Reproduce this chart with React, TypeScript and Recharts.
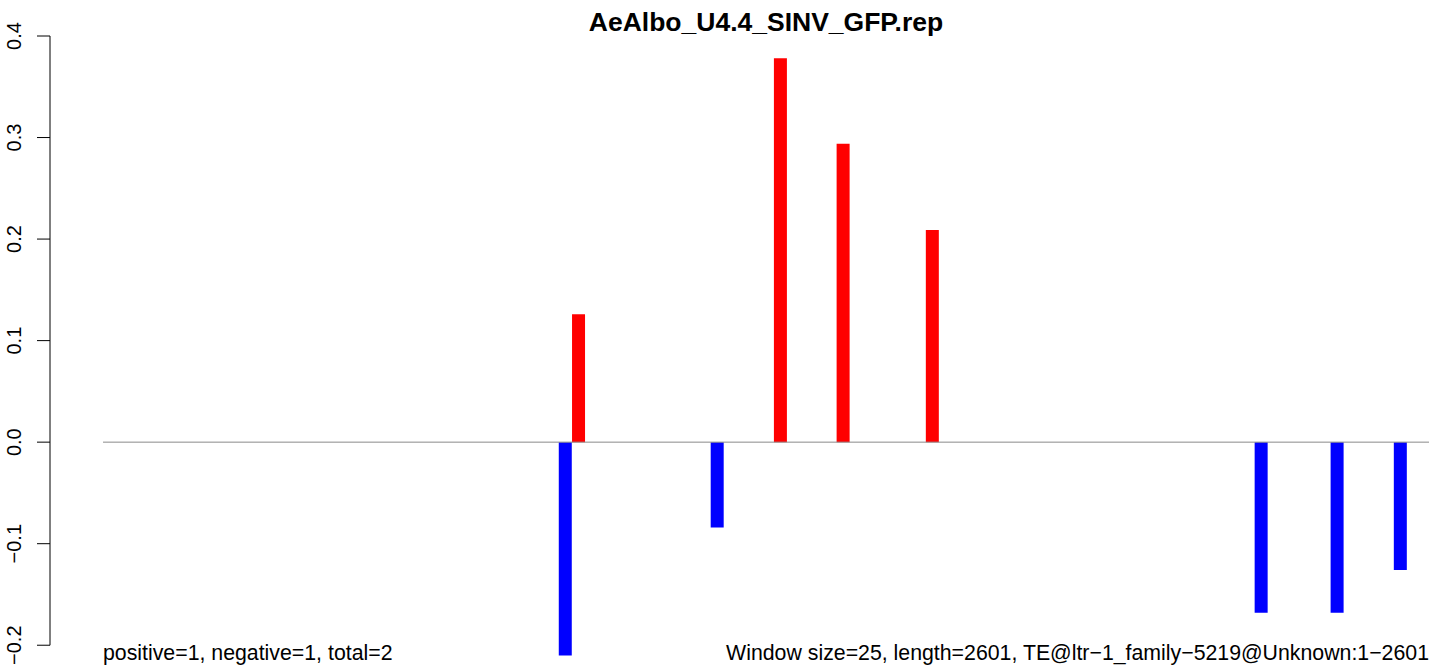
import { ComposedChart, Bar, Cell, XAxis, YAxis, ReferenceLine } from "recharts";

// window positions (bp) and scores
const positions = [907, 933, 1205, 1329, 1452, 1627, 2272, 2421, 2545];
const scores = [-0.21, 0.126, -0.084, 0.378, 0.294, 0.209, -0.168, -0.168, -0.126];
const yTicks = [-0.2, -0.1, 0, 0.1, 0.2, 0.3, 0.4];

const seqLength = 2601;
const title = "AeAlbo_U4.4_SINV_GFP.rep";
const leftNote = "positive=1, negative=1, total=2";
const rightNote = "Window size=25, length=2601, TE@ltr\u22121_family\u22125219@Unknown:1\u22122601";

const data = positions.map((pos, i) => ({ pos, value: scores[i] }));

const FONT = "'Liberation Sans', Arial, Helvetica, sans-serif";

function YTick({ x, y, payload }: { x?: number; y?: number; payload?: { value: number } }) {
  if (x == null || y == null || !payload) return null;
  const label = payload.value.toFixed(1).replace("-", "\u2212");
  return (
    <text
      x={x}
      y={y}
      transform={`rotate(-90, ${x}, ${y})`}
      textAnchor="middle"
      fontSize={20}
      fontFamily={FONT}
      fill="#000"
    >
      {label}
    </text>
  );
}

export default function App() {
  return (
    <div style={{ position: "absolute", left: 0, top: 0, width: 1429, height: 667, overflow: "hidden", background: "#fff" }}>
      <ComposedChart width={1429} height={696} data={data} margin={{ top: 36, right: 0, left: 0, bottom: 0 }}>
        <XAxis type="number" dataKey="pos" domain={[-104, seqLength]} allowDataOverflow hide />
        <YAxis
          type="number"
          domain={[-0.25, 0.4]}
          ticks={yTicks}
          interval={0}
          width={50}
          axisLine={false}
          tickLine={{ stroke: "#000", strokeWidth: 1 }}
          tickSize={13}
          tickMargin={16}
          tick={<YTick />}
        />
        <ReferenceLine
          segment={[{ x: -104, y: -0.2 }, { x: -104, y: 0.4 }]}
          stroke="#000"
          strokeWidth={1}
          ifOverflow="visible"
        />
        <ReferenceLine
          segment={[{ x: 0, y: 0 }, { x: seqLength, y: 0 }]}
          stroke="#8a8a8a"
          strokeWidth={1}
          ifOverflow="visible"
        />
        <Bar dataKey="value" barSize={13} isAnimationActive={false}>
          {data.map((d, i) => (
            <Cell key={i} fill={d.value >= 0 ? "#ff0000" : "#0000ff"} />
          ))}
        </Bar>
      </ComposedChart>
      <svg width={1429} height={667} style={{ position: "absolute", left: 0, top: 0, pointerEvents: "none" }}>
        <text x={766} y={31} textAnchor="middle" fontSize={26.5} fontWeight="bold" fontFamily={FONT} fill="#000">
          {title}
        </text>
        <text x={103} y={660} textAnchor="start" fontSize={21.3} fontFamily={FONT} fill="#000">
          {leftNote}
        </text>
        <text x={1429} y={660} textAnchor="end" fontSize={21.3} fontFamily={FONT} fill="#000">
          {rightNote}
        </text>
      </svg>
    </div>
  );
}
